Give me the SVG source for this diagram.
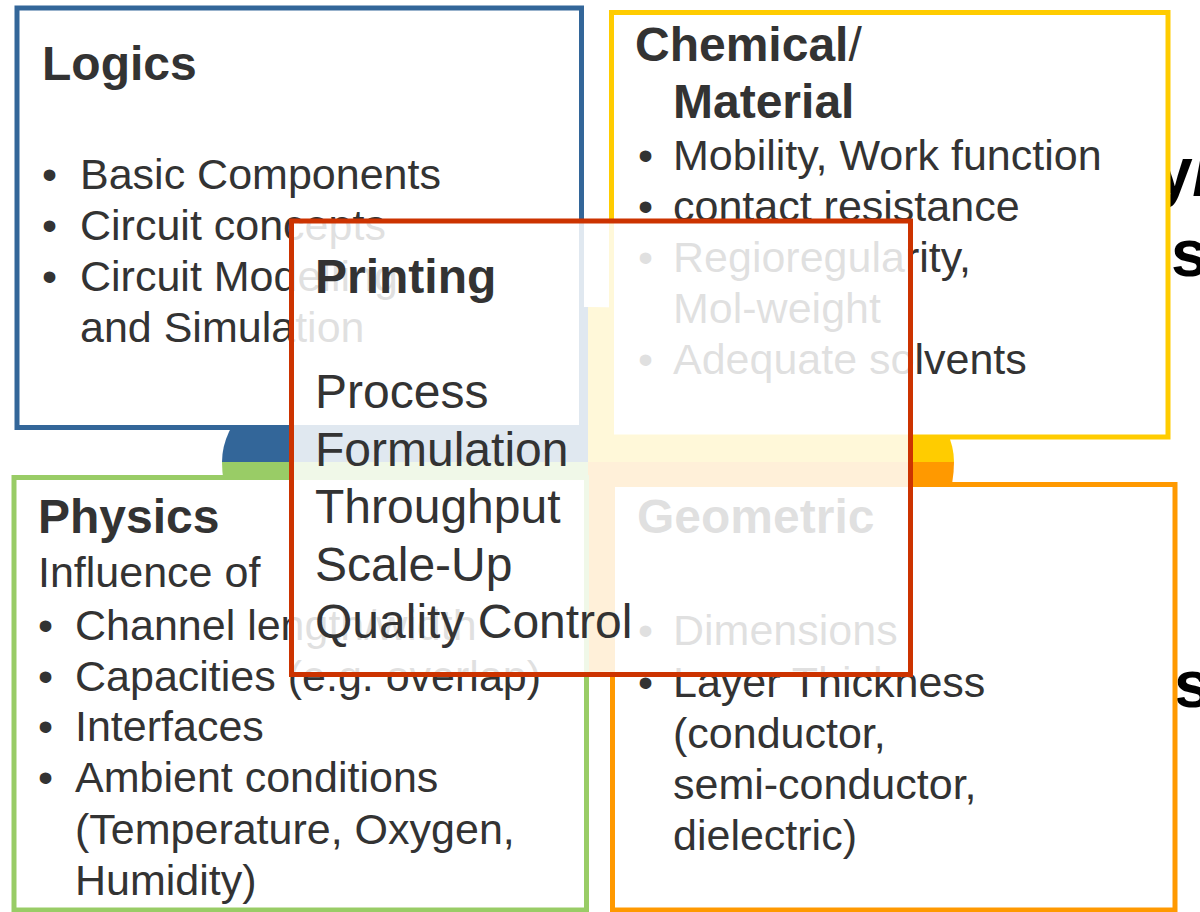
<svg xmlns="http://www.w3.org/2000/svg" width="1200" height="912" viewBox="0 0 1200 912">
  <style>
    .t{font-family:"Liberation Sans",Arial,sans-serif;fill:#333}
    .h{font-size:48px;font-weight:bold}
    .b{font-size:43px}
    .p{font-size:48px}
    .box{fill:#fff;stroke-width:5}
    .back{font-family:"Liberation Sans",Arial,sans-serif;font-size:66px;font-weight:bold;fill:#000}
  </style>

  <!-- layer behind the boxes: title fragments and the four-colour centre disc -->
  <g id="backdrop">
    <text class="back" x="1156" y="194">y/</text>
    <text class="back" x="1171" y="276">s</text>
    <text class="back" x="1174" y="707">s</text>
    <path d="M588,462 L222,462 A366,155 0 0 1 588,307 Z" fill="#336699"/>
    <path d="M588,462 L588,307 A366,155 0 0 1 954,462 Z" fill="#ffcc00"/>
    <path d="M588,462 L954,462 A366,210 0 0 1 588,672 Z" fill="#ff9900"/>
    <path d="M588,462 L588,672 A366,210 0 0 1 222,462 Z" fill="#99cc66"/>
  </g>

  <g id="logics">
    <rect class="box" x="17" y="8" width="564.5" height="419.5" stroke="#336699"/>
    <text class="t h" x="42" y="80">Logics</text>
    <text class="t b" y="189"><tspan x="42">•</tspan><tspan x="80">Basic Components</tspan></text>
    <text class="t b" y="240"><tspan x="42">•</tspan><tspan x="80">Circuit concepts</tspan></text>
    <text class="t b" y="291"><tspan x="42">•</tspan><tspan x="80">Circuit Modelling</tspan></text>
    <text class="t b" x="80" y="342">and Simulation</text>
  </g>

  <g id="chemical">
    <rect class="box" x="611.5" y="12.5" width="556.5" height="424.5" stroke="#ffcc00"/>
    <text class="t h" x="635" y="61">Chemical<tspan font-weight="normal">/</tspan></text>
    <text class="t h" x="673" y="118">Material</text>
    <text class="t b" y="170"><tspan x="638">•</tspan><tspan x="673">Mobility, Work function</tspan></text>
    <text class="t b" y="221"><tspan x="638">•</tspan><tspan x="673">contact resistance</tspan></text>
    <text class="t b" y="272"><tspan x="638">•</tspan><tspan x="673">Regioregularity,</tspan></text>
    <text class="t b" x="673" y="323">Mol-weight</text>
    <text class="t b" y="374"><tspan x="638">•</tspan><tspan x="673">Adequate solvents</tspan></text>
  </g>

  <g id="physics">
    <rect class="box" x="14" y="477.5" width="572.5" height="432.5" stroke="#99cc66"/>
    <text class="t h" x="38" y="533">Physics</text>
    <text class="t b" x="38" y="587">Influence of</text>
    <text class="t b" y="640"><tspan x="38">•</tspan><tspan x="75">Channel length/width</tspan></text>
    <text class="t b" y="691"><tspan x="38">•</tspan><tspan x="75">Capacities (e.g. overlap)</tspan></text>
    <text class="t b" y="741"><tspan x="38">•</tspan><tspan x="75">Interfaces</tspan></text>
    <text class="t b" y="792"><tspan x="38">•</tspan><tspan x="75">Ambient conditions</tspan></text>
    <text class="t b" x="75" y="844">(Temperature, Oxygen,</text>
    <text class="t b" x="75" y="895">Humidity)</text>
  </g>

  <g id="geometric">
    <rect class="box" x="612.5" y="484.5" width="562.5" height="425.5" stroke="#ff9900"/>
    <text class="t h" x="637" y="533">Geometric</text>
    <text class="t b" y="645"><tspan x="638">•</tspan><tspan x="673">Dimensions</tspan></text>
    <text class="t b" y="697"><tspan x="638">•</tspan><tspan x="673">Layer Thickness</tspan></text>
    <text class="t b" x="673" y="748">(conductor,</text>
    <text class="t b" x="673" y="799">semi-conductor,</text>
    <text class="t b" x="673" y="850">dielectric)</text>
  </g>

  <!-- centre box: translucent white veil over everything beneath -->
  <g id="printing">
    <rect x="291.5" y="221" width="619" height="453.5" fill="#fff" fill-opacity="0.85" stroke="#cc3300" stroke-width="5"/>
    <text class="t h" x="315" y="293">Printing</text>
    <text class="t p" x="315" y="408">Process</text>
    <text class="t p" x="315" y="465.5">Formulation</text>
    <text class="t p" x="315" y="523">Throughput</text>
    <text class="t p" x="315" y="580.5">Scale-Up</text>
    <text class="t p" x="315" y="638">Quality Control</text>
  </g>
</svg>
